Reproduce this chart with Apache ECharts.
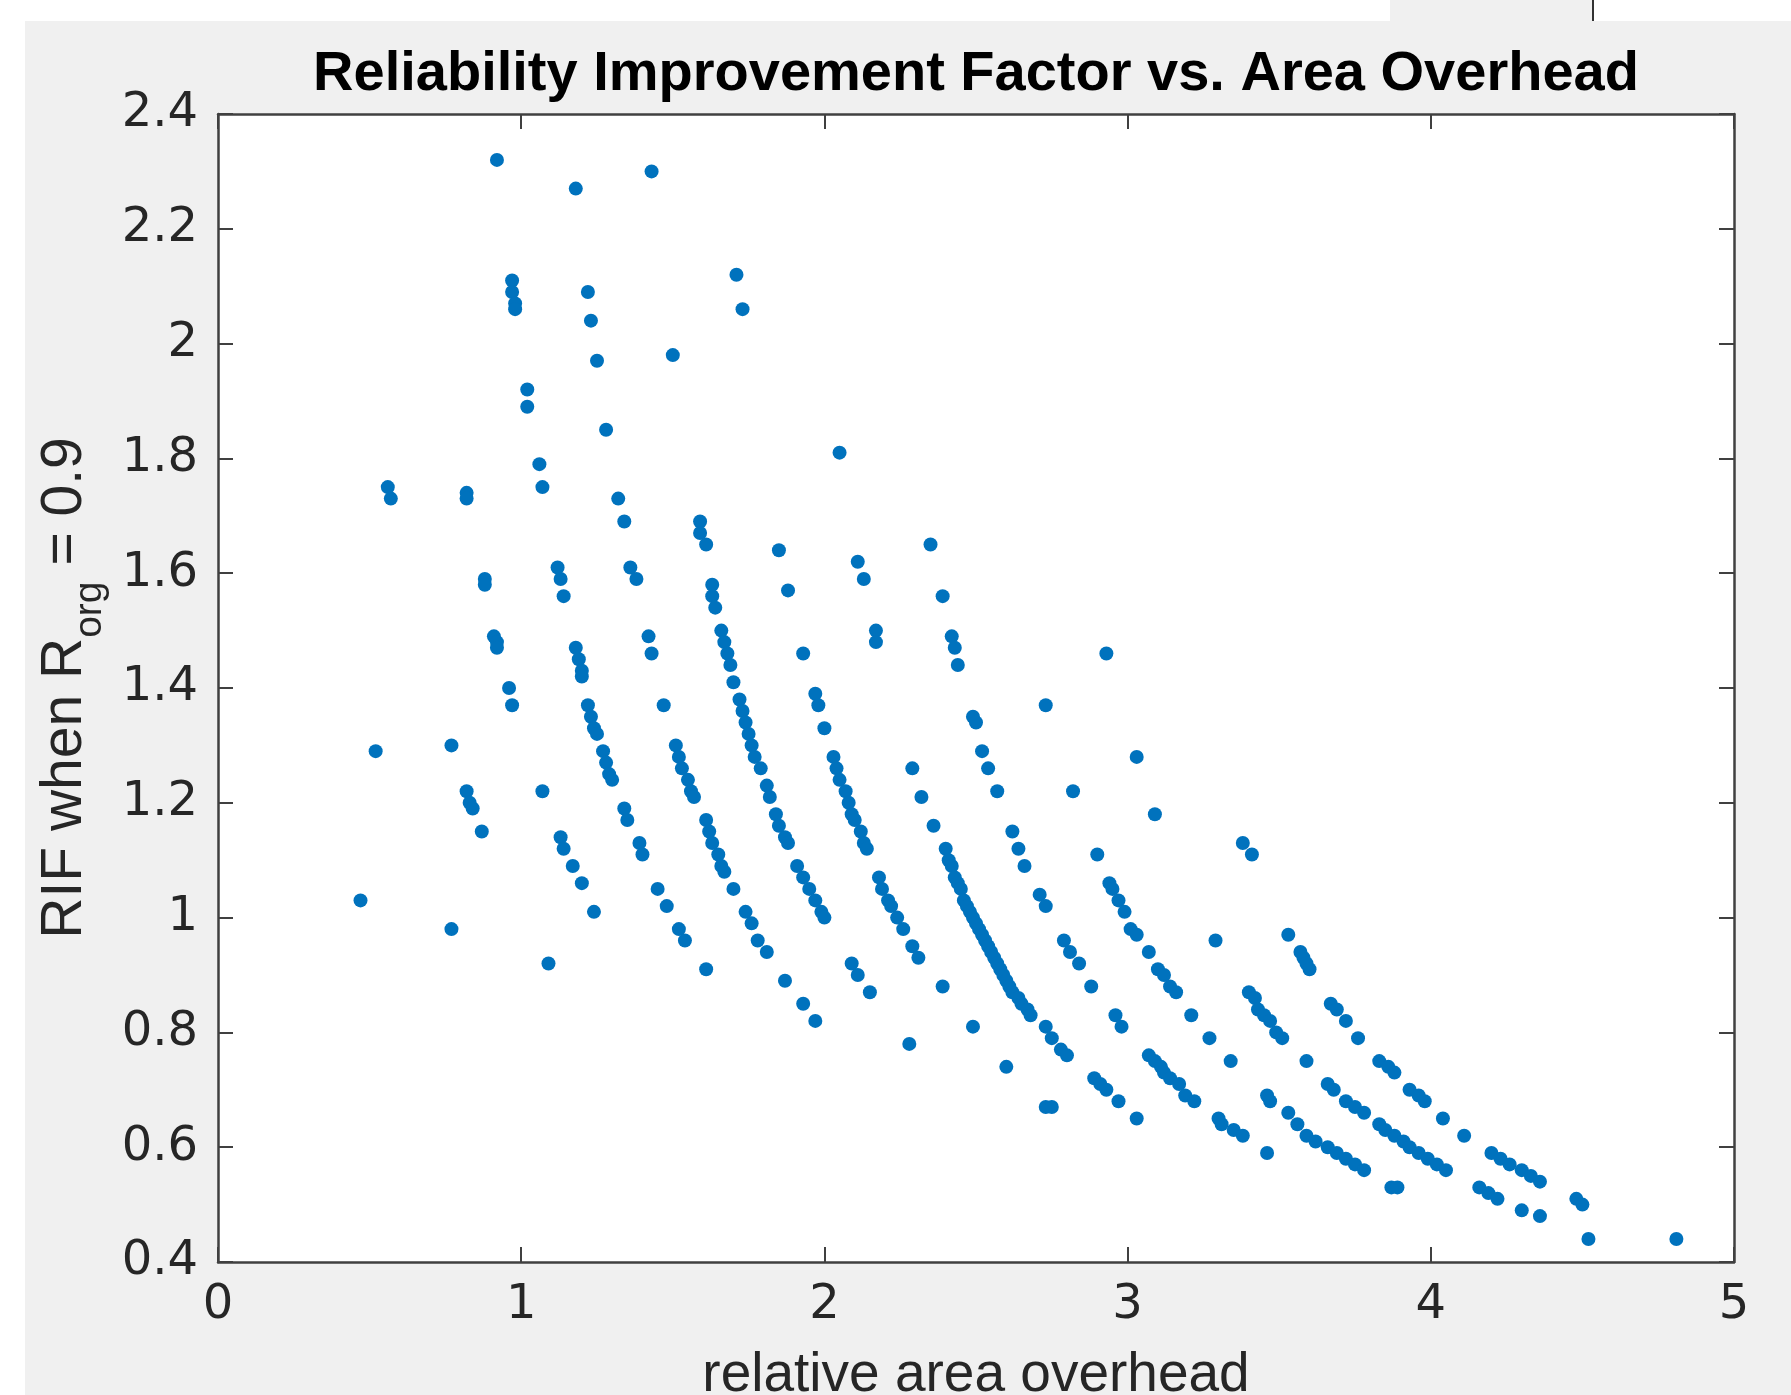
<!DOCTYPE html>
<html>
<head>
<meta charset="utf-8">
<script src="https://cdn.jsdelivr.net/npm/echarts@6/dist/echarts.min.js"></script>
<style>
html,body{margin:0;padding:0;background:#fff;}
#chart{width:1791px;height:1395px;}
</style>
</head>
<body>
<div id="chart"></div>
<script>
// ---- data (x = relative area overhead, y = RIF) ----
const titleText = 'Reliability Improvement Factor vs. Area Overhead';
const xAxisLabel = 'relative area overhead';
const xTickLabels = ['0','1','2','3','4','5'];
const yTickLabels = ['0.4','0.6','0.8','1','1.2','1.4','1.6','1.8','2','2.2','2.4'];

const ptsUpper = [[0.92,2.32],[1.18,2.27],[1.43,2.30],[0.97,2.11],[0.97,2.09],[0.98,2.07],[0.98,2.06],
  [1.22,2.09],[1.23,2.04],[1.25,1.97],[1.50,1.98],[1.71,2.12],[1.73,2.06],[1.02,1.92],[1.02,1.89],
  [1.28,1.85],[2.05,1.81],[1.06,1.79],[1.07,1.75],[0.56,1.75],[0.57,1.73],[0.82,1.74],[0.82,1.73],
  [1.32,1.73],[1.34,1.69],[1.59,1.69],[1.59,1.67],[1.61,1.65]];
const ptsLeft = [[0.88,1.59],[0.88,1.58],[1.12,1.61],[1.13,1.59],[1.14,1.56],[1.36,1.61],[1.38,1.59],
  [0.91,1.49],[0.92,1.48],[0.92,1.47],[0.96,1.40],[0.97,1.37],[1.42,1.49],[1.43,1.46],
  [0.52,1.29],[0.77,1.30],[0.82,1.22],[0.83,1.20],[0.84,1.19],[0.87,1.15],[1.07,1.22],
  [0.47,1.03],[0.77,0.98],[1.09,0.92],[1.13,1.14],[1.14,1.12],[1.17,1.09],[1.20,1.06],[1.24,1.01]];
const chainA = [[1.18,1.47],[1.19,1.45],[1.20,1.43],[1.20,1.42],[1.22,1.37],[1.23,1.35],[1.24,1.33],[1.25,1.32],
  [1.27,1.29],[1.28,1.27],[1.29,1.25],[1.30,1.24],[1.34,1.19],[1.35,1.17],[1.39,1.13],[1.40,1.11]];
const chainB = [[1.45,1.05],[1.48,1.02],[1.52,0.98],[1.54,0.96],[1.61,0.91]];
const chainC = [[1.63,1.58],[1.63,1.56],[1.64,1.54],[1.66,1.50],[1.67,1.48],[1.68,1.46],[1.69,1.44],[1.70,1.41],
  [1.72,1.38],[1.73,1.36],[1.74,1.34],[1.75,1.32],[1.76,1.30],[1.77,1.28],[1.79,1.26],[1.81,1.23],
  [1.82,1.21],[1.84,1.18],[1.85,1.16],[1.87,1.14],[1.88,1.13]];
const chainD = [[1.47,1.37],[1.51,1.30],[1.52,1.28],[1.53,1.26],[1.55,1.24],[1.56,1.22],[1.57,1.21],[1.61,1.17],
  [1.62,1.15],[1.63,1.13],[1.65,1.11],[1.66,1.09],[1.67,1.08],[1.70,1.05]];
const chainE = [[1.74,1.01],[1.76,0.99],[1.78,0.96],[1.81,0.94],[1.87,0.89],[1.93,0.85],[1.97,0.82]];
const ptsMid1 = [[1.85,1.64],[1.88,1.57],[1.93,1.46],[1.97,1.39],[1.98,1.37],[2.00,1.33]];
const chainF = [[1.91,1.09],[1.93,1.07],[1.95,1.05],[1.97,1.03],[1.99,1.01],[2.00,1.00]];
const chainG = [[2.03,1.28],[2.04,1.26],[2.05,1.24],[2.07,1.22],[2.08,1.20],[2.09,1.18],[2.10,1.17],[2.12,1.15],[2.13,1.13],[2.14,1.12]];
const chainH = [[2.18,1.07],[2.19,1.05],[2.21,1.03],[2.22,1.02],[2.24,1.00],[2.26,0.98],[2.29,0.95],[2.31,0.93]];
const ptsMid2 = [[2.11,1.62],[2.13,1.59],[2.17,1.50],[2.17,1.48],[2.09,0.92],[2.11,0.90],[2.15,0.87],[2.28,0.78],
  [2.35,1.65],[2.39,1.56],[2.42,1.49],[2.43,1.47],[2.44,1.44],[2.49,1.35],[2.50,1.34],[2.52,1.29],[2.54,1.26],[2.57,1.22],
  [2.29,1.26],[2.32,1.21],[2.36,1.16],[2.39,0.88],[2.49,0.81],[2.60,0.74]];
const chainI = [[2.40,1.12],[2.41,1.10],[2.42,1.09],[2.43,1.07],[2.44,1.06],[2.45,1.05],[2.46,1.03],[2.47,1.02],
  [2.48,1.01],[2.49,1.00],[2.50,0.99],[2.51,0.98],[2.52,0.97],[2.53,0.96],[2.54,0.95],[2.55,0.94],[2.56,0.93],
  [2.57,0.92],[2.58,0.91],[2.59,0.90],[2.60,0.89],[2.61,0.88],[2.62,0.87],[2.64,0.86],[2.65,0.85],[2.67,0.84],
  [2.68,0.83],[2.73,0.81],[2.75,0.79],[2.78,0.77],[2.80,0.76]];
const chainJ = [[2.62,1.15],[2.64,1.12],[2.66,1.09],[2.71,1.04],[2.73,1.02],[2.79,0.96],[2.81,0.94],[2.84,0.92],[2.88,0.88],[2.96,0.83],[2.98,0.81]];
const ptsMid3 = [[2.73,1.37],[2.82,1.22],[2.73,0.67],[2.75,0.67],[2.93,1.46],[3.03,1.28],[3.09,1.18],[3.29,0.96],[3.38,1.13],[3.41,1.11]];
const chainK1 = [[2.90,1.11],[2.94,1.06],[2.95,1.05],[2.97,1.03],[2.99,1.01],[3.01,0.98],[3.03,0.97],[3.07,0.94],
  [3.10,0.91],[3.12,0.90],[3.14,0.88],[3.16,0.87],[3.21,0.83],[3.27,0.79]];
const chainK2 = [[2.89,0.72],[2.91,0.71],[2.93,0.70],[2.97,0.68],[3.03,0.65]];
const chainK3 = [[3.07,0.76],[3.09,0.75],[3.11,0.74],[3.12,0.73],[3.14,0.72],[3.17,0.71],[3.19,0.69],[3.22,0.68]];
const chainL = [[3.30,0.65],[3.31,0.64],[3.35,0.63],[3.38,0.62],[3.46,0.59]];
const chainM = [[3.34,0.75],[3.40,0.87],[3.42,0.86],[3.43,0.84],[3.45,0.83],[3.47,0.82],[3.49,0.80],[3.51,0.79]];
const chainN = [[3.46,0.69],[3.47,0.68],[3.53,0.66],[3.56,0.64],[3.59,0.62],[3.62,0.61],[3.66,0.60],[3.69,0.59],[3.72,0.58],[3.75,0.57],[3.78,0.56]];
const chainO = [[3.53,0.97],[3.57,0.94],[3.58,0.93],[3.59,0.92],[3.60,0.91],[3.67,0.85],[3.69,0.84],[3.72,0.82],[3.76,0.79],[3.59,0.75]];
const chainP = [[3.66,0.71],[3.68,0.70],[3.72,0.68],[3.75,0.67],[3.78,0.66],[3.83,0.64],[3.85,0.63],[3.88,0.62],
  [3.91,0.61],[3.93,0.60],[3.96,0.59],[3.99,0.58],[4.02,0.57],[4.05,0.56]];
const chainQ = [[3.83,0.75],[3.86,0.74],[3.88,0.73],[3.93,0.70],[3.96,0.69],[3.98,0.68],[4.04,0.65],[4.11,0.62],
  [4.20,0.59],[4.23,0.58],[4.26,0.57],[4.30,0.56],[4.33,0.55],[4.36,0.54]];
const chainR = [[3.87,0.53],[3.89,0.53],[4.16,0.53],[4.19,0.52],[4.22,0.51],[4.30,0.49],[4.36,0.48]];
const ptsTail = [[4.48,0.51],[4.50,0.50],[4.52,0.44],[4.81,0.44]];

const allPoints = [].concat(ptsUpper, ptsLeft, chainA, chainB, chainC, chainD, chainE, ptsMid1, chainF,
  chainG, chainH, ptsMid2, chainI, chainJ, ptsMid3, chainK1, chainK2, chainK3, chainL, chainM, chainN,
  chainO, chainP, chainQ, chainR, ptsTail);

// ---- chart ----
const AX = '#404040';
const TXT = '#262626';
const chart = echarts.init(document.getElementById('chart'));
const G = {left: 218, top: 114, width: 1516, height: 1148};
const tickIn = () => ({show: true, inside: true, length: 15, lineStyle: {color: AX, width: 2}});
const axLine = () => ({show: true, onZero: false, lineStyle: {color: AX, width: 2.5}});

chart.setOption({
  animation: false,
  backgroundColor: '#ffffff',
  title: {
    text: titleText, left: 976, top: 47, textAlign: 'center', padding: 0,
    textStyle: {fontFamily: 'Liberation Sans', fontWeight: 'bold', fontSize: 56, color: '#000'}
  },
  graphic: [
    {type: 'rect', z: -100, shape: {x: 25, y: 21, width: 1766, height: 1374}, style: {fill: '#f0f0f0'}},
    {type: 'rect', z: -100, shape: {x: 1390, y: 0, width: 203, height: 21}, style: {fill: '#f0f0f0'}},
    {type: 'rect', z: -99, shape: {x: 1592, y: 0, width: 2, height: 21}, style: {fill: '#333'}}
  ],
  grid: Object.assign({show: true, backgroundColor: '#ffffff', borderWidth: 0, containLabel: false,
    outerBoundsMode: 'none'}, G),
  xAxis: [{
    type: 'value', min: 0, max: 5, interval: 1, position: 'bottom',
    axisLine: axLine(), axisTick: tickIn(), splitLine: {show: false},
    axisLabel: {margin: 20, fontFamily: 'DejaVu Sans', fontSize: 48, color: TXT,
      formatter: v => xTickLabels[Math.round(v)]},
    name: xAxisLabel, nameLocation: 'middle', nameGap: 86,
    nameTextStyle: {fontFamily: 'Liberation Sans', fontSize: 55, color: TXT}
  }, {
    type: 'value', min: 0, max: 5, interval: 1, position: 'top',
    axisLine: axLine(), axisTick: tickIn(), splitLine: {show: false}, axisLabel: {show: false}
  }],
  yAxis: [{
    type: 'value', min: 0.4, max: 2.4, interval: 0.2, position: 'left',
    axisLine: axLine(), axisTick: tickIn(), splitLine: {show: false},
    axisLabel: {margin: 20, fontFamily: 'DejaVu Sans', fontSize: 48, color: TXT,
      formatter: v => yTickLabels[Math.round((v - 0.4) / 0.2)]},
    name: '{m|RIF when R}{s|org}{m| = 0.9}', nameLocation: 'middle', nameGap: 108, nameRotate: 90,
    nameTextStyle: {fontFamily: 'Liberation Sans', fontSize: 57, color: TXT,
      rich: {
        m: {fontFamily: 'Liberation Sans', fontSize: 57, color: TXT},
        s: {fontFamily: 'Liberation Sans', fontSize: 39, color: TXT, padding: [50, 0, 0, 0]}
      }}
  }, {
    type: 'value', min: 0.4, max: 2.4, interval: 0.2, position: 'right',
    axisLine: axLine(), axisTick: tickIn(), splitLine: {show: false}, axisLabel: {show: false}
  }],
  series: [{
    type: 'scatter', xAxisIndex: 0, yAxisIndex: 0,
    symbol: 'circle', symbolSize: 14,
    itemStyle: {color: '#0072BD', opacity: 1},
    data: allPoints
  }]
});
</script>
</body>
</html>
